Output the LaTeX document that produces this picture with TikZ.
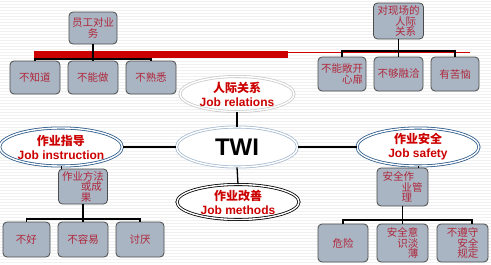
\documentclass[tikz,border=0pt]{standalone}
\usepackage{fontspec}
\setmainfont{Liberation Sans}
\newfontfamily\cjk{Noto Sans CJK SC}
\usetikzlibrary{shapes.geometric}
\definecolor{boxfill}{HTML}{A9B5C3}
\definecolor{boxtext}{HTML}{B0283C}
\definecolor{ered}{HTML}{CC0000}
\definecolor{navyb}{HTML}{2B5A8A}
\definecolor{steelb}{HTML}{A8BCD0}
\definecolor{stripe}{HTML}{F1F1F1}
\begin{document}
\begin{tikzpicture}[x=1pt,y=-1pt,
  box/.style={draw=black!70, fill=boxfill, rounded corners=4pt, line width=0.8pt,
    inner sep=1pt, font=\cjk\fontsize{10.5}{10.5}\selectfont, text=boxtext, align=center,
    minimum width=50pt, minimum height=33pt},
  conn/.style={line width=1.3pt, draw=black},
  ell/.style={ellipse, inner sep=0pt, double distance=1.4pt, line width=0.8pt, fill=white,
    font=\bfseries\fontsize{12}{14}\selectfont, text=ered, align=center}]
\useasboundingbox (0,0) rectangle (491,265);
\fill[white] (0,0) rectangle (491,265);
\foreach \yy in {1.5,4.5,...,265} \draw[stripe, line width=1.3pt] (0,\yy) -- (491,\yy);

% red bar
\fill[ered] (34,51) rectangle (288,57.5);
\draw[ered, line width=1pt] (288,52.5) -- (470,52.5);

% ellipses
\node[ell, draw=gray!40, minimum width=114pt, minimum height=35pt] (rel) at (237,94) {{\cjk 人际关系}\\Job relations};
\node[ell, draw=steelb, minimum width=121pt, minimum height=40pt, text=black, font=\bfseries\fontsize{24}{24}\selectfont] (twi) at (237,147) {TWI};
\node[ell, draw=black, minimum width=122pt, minimum height=35pt] (meth) at (238,202) {{\cjk 作业改善}\\Job methods};
\node[ell, draw=navyb, minimum width=118pt, minimum height=38pt] (instr) at (61,147) {{\cjk 作业指导}\\Job instruction};
\node[ell, draw=navyb, minimum width=122pt, minimum height=36pt] (safe) at (418,147) {{\cjk 作业安全}\\Job safety};

% boxes top-left
\node[box, minimum width=48pt, minimum height=32pt] (b1) at (93,28) {员工对业\\务};
\node[box] (b1a) at (35,77.5) {不知道};
\node[box] (b1b) at (93,77.5) {不能做};
\node[box] (b1c) at (151,77.5) {不熟悉};
% boxes top-right
\node[box, minimum height=36pt] (r1) at (398.5,21) {对现场的\\\hspace*{14pt}人际\\\hspace*{14pt}关系};
\node[box, minimum width=48pt, minimum height=34pt, align=right] (r1a) at (342,74) {不能敞开\\心扉};
\node[box, minimum width=49pt, minimum height=34pt] (r1b) at (398.5,74) {不够融洽};
\node[box, minimum width=48pt, minimum height=34pt] (r1c) at (455,74) {有苦恼};
% boxes bottom-left
\node[box, minimum width=49pt, minimum height=35pt, align=left] (m1) at (83,186.5) {作业方法\\\hspace*{19pt}或成\\\hspace*{19pt}果};
\node[box, minimum width=47pt, minimum height=35pt] (m1a) at (26.5,239.5) {不好};
\node[box, minimum height=35pt] (m1b) at (83,239.5) {不容易};
\node[box, minimum width=48pt, minimum height=35pt] (m1c) at (140,239.5) {讨厌};
% boxes bottom-right
\node[box, minimum width=51pt, minimum height=38pt, align=left] (s1) at (402.5,187) {安全作\\\hspace*{19pt}业管\\\hspace*{19pt}理};
\node[box, minimum height=38pt] (s1a) at (343,243) {危险};
\node[box, minimum width=51pt, minimum height=38pt, align=right] (s1b) at (402.5,243) {安全意\\识淡\\薄};
\node[box, minimum width=51pt, minimum height=38pt, align=right] (s1c) at (462.5,243) {不遵守\\安全\\规定};

% connectors
\coordinate (h1) at (93,59);
\coordinate (h2) at (398.5,51);
\coordinate (h3) at (83,219);
\coordinate (h4) at (402.5,220);
\begin{scope}[on background layer/.style={}]
\draw[conn] (b1.south) -- (b1b.north);
\draw[conn] (b1a.north) |- (h1) -| (b1c.north);
\draw[conn] (r1.south) -- (r1b.north);
\draw[conn] (r1a.north) |- (h2) -| (r1c.north);
\draw[conn] (m1.south) -- (m1b.north);
\draw[conn] (m1a.north) |- (h3) -| (m1c.north);
\draw[conn] (s1.south) -- (s1b.north);
\draw[conn] (s1a.north) |- (h4) -| ([xshift=9.5pt]s1c.north);
\draw[conn] (rel.south) -- (twi.north);
\draw[conn] (twi.south) -- (meth.north);
\draw[conn] (twi.west) -- (instr.east);
\draw[conn] (twi.east) -- (safe.west);
\draw[conn, line width=1pt] (instr.south) -- (instr.south |- m1.north);
\draw[conn, line width=1pt] (safe.south) -- (safe.south |- s1.north);
\end{scope}
\end{tikzpicture}
\end{document}
